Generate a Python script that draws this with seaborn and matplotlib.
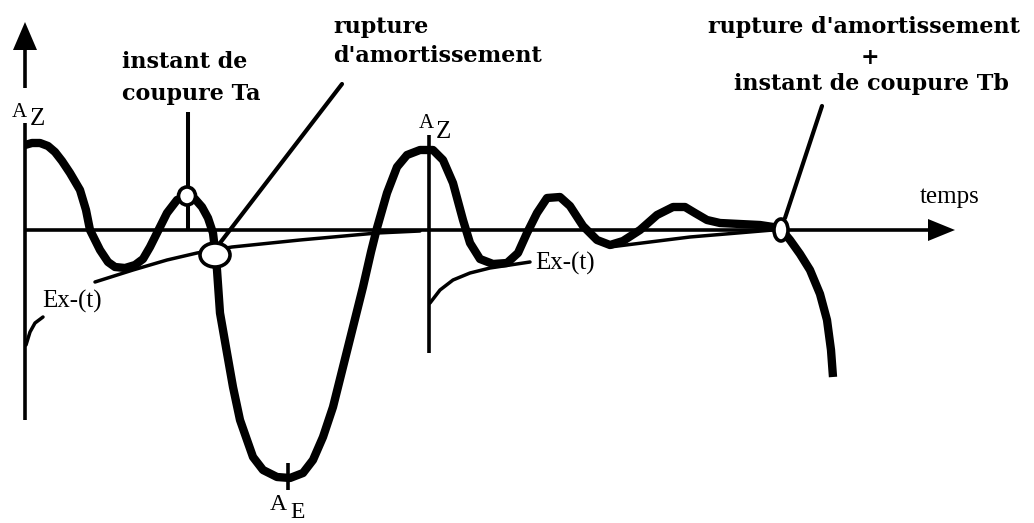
import matplotlib
matplotlib.use("Agg")
import matplotlib.pyplot as plt
from matplotlib.patches import Ellipse, Polygon
import seaborn as sns

# Oscillating response (time in arbitrary units, amplitude in arbitrary units)
response_t = [0.00, 0.07, 0.15, 0.23, 0.30, 0.37, 0.45, 0.55, 0.61, 0.65,
              0.75, 0.83, 0.90, 1.00, 1.10, 1.18, 1.25, 1.32, 1.42, 1.52,
              1.62, 1.70, 1.77, 1.83, 1.88, 1.90, 1.92, 1.95, 2.02, 2.08,
              2.15, 2.22, 2.28, 2.38, 2.52, 2.65, 2.78, 2.88, 2.98, 3.08,
              3.18, 3.28, 3.38, 3.46, 3.52, 3.62, 3.72, 3.82, 3.95, 4.08,
              4.18, 4.28, 4.38, 4.45, 4.55, 4.68, 4.82, 4.93, 5.02, 5.12,
              5.22, 5.35, 5.45, 5.58, 5.72, 5.85, 5.98, 6.15, 6.32, 6.48,
              6.60, 6.70, 6.82, 6.95, 7.15, 7.35, 7.55, 7.65, 7.75, 7.85,
              7.95, 8.02, 8.06, 8.08]
response_a = [0.85, 0.87, 0.87, 0.84, 0.78, 0.69, 0.57, 0.40, 0.20, 0.00,
              -0.20, -0.32, -0.37, -0.38, -0.35, -0.29, -0.17, -0.03, 0.17, 0.30,
              0.34, 0.31, 0.23, 0.12, -0.03, -0.20, -0.40, -0.83, -1.23, -1.57,
              -1.90, -2.10, -2.27, -2.40, -2.47, -2.48, -2.43, -2.30, -2.07, -1.77,
              -1.37, -0.97, -0.57, -0.22, 0.02, 0.37, 0.63, 0.75, 0.80, 0.80,
              0.70, 0.47, 0.10, -0.13, -0.29, -0.34, -0.33, -0.23, -0.03, 0.17,
              0.32, 0.33, 0.24, 0.04, -0.10, -0.15, -0.11, 0.00, 0.15, 0.23,
              0.23, 0.17, 0.10, 0.07, 0.06, 0.05, 0.02, -0.10, -0.24, -0.40,
              -0.64, -0.90, -1.20, -1.47]

# Envelope Ex-(t), first decay (split around its label)
env1_low_t = [0.01, 0.05, 0.10, 0.18]
env1_low_a = [-1.15, -1.02, -0.93, -0.87]
env1_t = [0.70, 1.08, 1.42, 1.72, 2.07, 2.75, 3.52, 3.95]
env1_a = [-0.52, -0.40, -0.30, -0.23, -0.17, -0.10, -0.03, -0.01]

# Envelope Ex-(t), second decay
env2_t = [4.05, 4.15, 4.28, 4.45, 4.65, 4.85, 5.05]
env2_a = [-0.73, -0.60, -0.50, -0.43, -0.38, -0.35, -0.32]
env2_tail_t = [5.85, 6.65, 7.48]
env2_tail_a = [-0.17, -0.07, 0.00]

# Remarkable instants
t_cut_a, a_cut_a = 1.62, 0.34      # instant de coupure Ta
t_break, a_break = 1.90, -0.25     # rupture d'amortissement
t_cut_b, a_cut_b = 7.56, 0.00      # rupture + coupure Tb
t_second_az = 4.04
t_ae = 2.63

sns.set_theme(style="white")
plt.rcParams["font.family"] = ["DejaVu Serif"]

fig = plt.figure(figsize=(10.34, 5.23), dpi=100)
ax = fig.add_axes([0, 0, 1, 1])
ax.set_xlim(-0.25, 10.09)
ax.set_ylim(-2.93, 2.30)
ax.set_axis_off()

K = "black"
AX_LW = 2.6
THIN = 2.5
THICK = 6.0

# Axes of the diagram
ax.plot([0, 0], [1.42, 1.80], color=K, lw=AX_LW, solid_capstyle="butt")
ax.plot([0, 0], [-1.90, 1.07], color=K, lw=AX_LW, solid_capstyle="butt")
ax.add_patch(Polygon([[-0.12, 1.80], [0.12, 1.80], [0.0, 2.08]], closed=True,
                     color=K, lw=0))
ax.plot([0, 9.03], [0, 0], color=K, lw=AX_LW, solid_capstyle="butt")
ax.add_patch(Polygon([[9.03, 0.11], [9.03, -0.11], [9.30, 0.0]], closed=True,
                     color=K, lw=0))
ax.plot([t_second_az, t_second_az], [-1.23, 0.95], color=K, lw=AX_LW,
        solid_capstyle="butt")
ax.plot([t_ae, t_ae], [-2.60, -2.33], color=K, lw=AX_LW, solid_capstyle="butt")

# Envelopes
for xs, ys in [(env1_low_t, env1_low_a), (env1_t, env1_a),
               (env2_t, env2_a), (env2_tail_t, env2_tail_a)]:
    sns.lineplot(x=xs, y=ys, sort=False, estimator=None, color=K, lw=THIN,
                 solid_capstyle="round", ax=ax)

# Response curve
sns.lineplot(x=response_t, y=response_a, sort=False, estimator=None, color=K,
             lw=THICK, solid_capstyle="butt", solid_joinstyle="round", ax=ax)

# Leader lines
ax.plot([1.63, 1.63], [0.0, 1.18], color=K, lw=2.9, solid_capstyle="butt",
        zorder=4)
ax.plot([3.17, 1.95], [1.46, -0.13], color=K, lw=3.0, solid_capstyle="round",
        zorder=4)
ax.plot([7.97, 7.60], [1.24, 0.12], color=K, lw=3.0, solid_capstyle="round",
        zorder=4)

# Markers of the remarkable instants
for (cx, cy, w, h) in [(t_cut_a, a_cut_a, 0.17, 0.18),
                       (t_break, a_break, 0.30, 0.24),
                       (t_cut_b, a_cut_b, 0.14, 0.22)]:
    ax.add_patch(Ellipse((cx, cy), w, h, facecolor="white", edgecolor=K,
                         lw=2.6, zorder=6))

# Labels
bold = dict(fontfamily="DejaVu Serif", fontweight="bold", fontsize=16,
            color=K, va="baseline")
ax.text(0.97, 1.62, "instant de", ha="left", **bold)
ax.text(0.97, 1.30, "coupure Ta", ha="left", **bold)
ax.text(3.08, 1.97, "rupture", ha="left", **bold)
ax.text(3.08, 1.68, "d'amortissement", ha="left", **bold)
ax.text(8.385, 1.97, "rupture d'amortissement", ha="center", **bold)
ax.text(8.45, 1.66, "+", ha="center", **bold)
ax.text(8.465, 1.40, "instant de coupure Tb", ha="center", **bold)

serif = dict(fontfamily="Liberation Serif", color=K, va="baseline", ha="left")
ax.text(8.95, 0.27, "temps", fontsize=18, **serif)
ax.text(0.17, -0.78, "Ex-(t)", fontsize=18, **serif)
ax.text(5.10, -0.40, "Ex-(t)", fontsize=18, **serif)

ax.text(-0.13, 1.13, "A", fontsize=15, **serif)
ax.text(0.05, 1.05, "Z", fontsize=18, **serif)
ax.text(3.94, 1.02, "A", fontsize=15, **serif)
ax.text(4.11, 0.92, "Z", fontsize=18, **serif)
ax.text(2.45, -2.80, "A", fontsize=17, **serif)
ax.text(2.65, -2.88, "E", fontsize=17, **serif)

fig.savefig("out.png", dpi=100, facecolor="white")
